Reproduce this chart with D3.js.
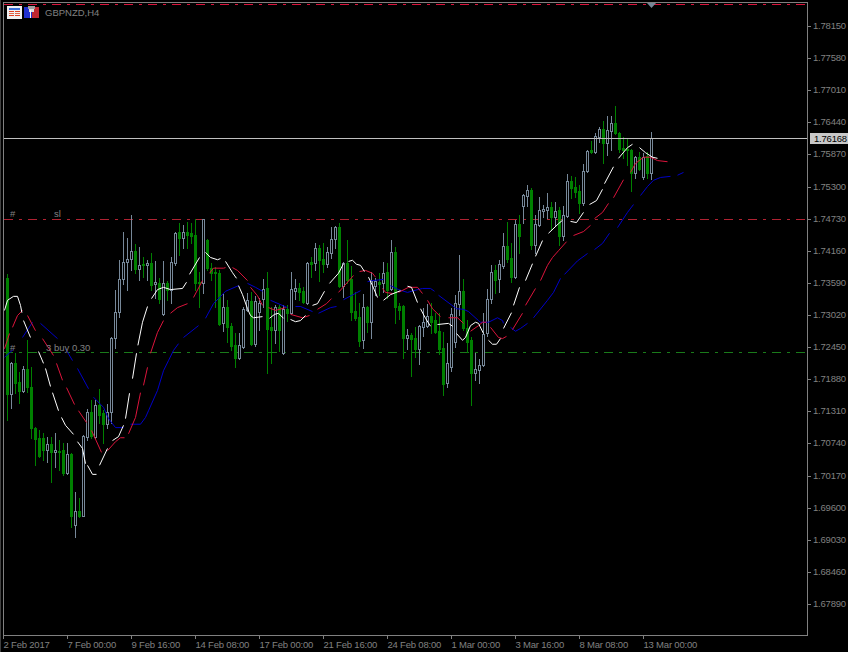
<!DOCTYPE html>
<html><head><meta charset="utf-8">
<script src="https://cdn.jsdelivr.net/npm/d3@7/dist/d3.min.js"></script>
<style>
html,body{margin:0;padding:0;background:#000;overflow:hidden}
svg{display:block}
text{font-family:"Liberation Sans",Arial,sans-serif;font-size:9.5px;fill:#808080}
</style></head><body>
<svg id="c" width="848" height="652"></svg>
<script>
// Prices are in 1/10000 units (17368 = 1.7368). Bars start at index 1; bar 0 sits behind the left border.
const highs=[17375,17219,17235,17201,17212,17258,17210,17103,17098,17092,17085,17085,17092,17080,17075,17075,17057,16988,16977,17089,17135,17151,17151,17171,17133,17144,17263,17346,17400,17449,17439,17480,17428,17423,17405,17400,17412,17398,17368,17398,17362,17405,17449,17465,17462,17467,17465,17472,17378,17472,17437,17394,17387,17382,17339,17329,17288,17270,17270,17316,17341,17343,17336,17332,17366,17378,17316,17320,17320,17320,17320,17378,17366,17359,17352,17396,17405,17430,17426,17430,17423,17458,17460,17465,17396,17435,17389,17343,17323,17339,17318,17378,17368,17377,17396,17394,17435,17423,17323,17320,17277,17270,17281,17284,17314,17322,17323,17306,17306,17272,17252,17314,17338,17409,17366,17293,17263,17235,17224,17306,17348,17391,17391,17400,17448,17467,17430,17471,17480,17517,17533,17527,17480,17511,17497,17519,17503,17503,17494,17496,17552,17549,17547,17533,17570,17595,17611,17625,17636,17646,17655,17655,17673,17627,17618,17616,17597,17584,17591,17590,17591,17627];
const opens=[17368,17162,17217,17183,17167,17206,17174,17101,17084,17084,17062,17073,17059,17061,17062,17022,17055,16929,16954,16946,17085,17130,17085,17142,17128,17109,17130,17261,17307,17366,17396,17401,17416,17384,17393,17391,17394,17357,17359,17304,17359,17346,17394,17449,17439,17449,17448,17444,17361,17359,17435,17386,17378,17377,17288,17316,17283,17249,17226,17245,17311,17327,17251,17307,17330,17350,17281,17275,17316,17235,17313,17306,17345,17350,17345,17323,17396,17394,17421,17401,17393,17412,17437,17458,17354,17394,17366,17309,17298,17258,17316,17290,17354,17361,17359,17378,17348,17414,17318,17318,17261,17267,17261,17242,17281,17283,17300,17293,17274,17244,17181,17210,17254,17322,17345,17279,17258,17199,17204,17213,17270,17330,17382,17366,17389,17425,17403,17370,17464,17496,17513,17524,17426,17462,17487,17488,17494,17476,17488,17442,17478,17540,17529,17522,17501,17558,17595,17591,17618,17632,17607,17629,17643,17625,17598,17597,17595,17554,17582,17547,17584,17554];
const closes=[17162,17217,17181,17167,17206,17174,17101,17082,17052,17062,17073,17059,17062,17059,17022,17055,16946,16954,16946,17087,17130,17087,17142,17125,17109,17130,17261,17307,17366,17396,17401,17416,17384,17391,17391,17394,17355,17361,17330,17359,17346,17396,17448,17439,17449,17444,17442,17359,17359,17472,17386,17377,17377,17286,17316,17281,17247,17226,17249,17313,17329,17251,17327,17323,17348,17277,17275,17316,17275,17313,17306,17348,17350,17343,17325,17394,17393,17421,17400,17393,17414,17437,17458,17354,17394,17364,17307,17297,17256,17316,17290,17362,17362,17357,17377,17346,17414,17316,17311,17261,17267,17259,17242,17283,17290,17300,17290,17272,17242,17180,17217,17304,17323,17345,17279,17254,17199,17206,17213,17268,17330,17378,17364,17393,17425,17401,17370,17464,17442,17515,17524,17426,17464,17488,17490,17494,17476,17487,17442,17480,17540,17527,17520,17501,17558,17593,17591,17620,17632,17607,17630,17643,17625,17597,17595,17595,17554,17582,17561,17582,17554,17616];
const lows=[17116,17137,17164,17146,17165,17165,17084,17036,17050,17045,17041,17006,17032,17027,17018,17020,16926,16908,16944,16945,17080,17084,17084,17110,17075,17101,17110,17243,17298,17357,17346,17382,17377,17364,17370,17364,17346,17332,17323,17302,17329,17323,17391,17409,17421,17421,17430,17346,17316,17341,17382,17364,17316,17284,17274,17254,17240,17210,17224,17243,17309,17249,17247,17275,17316,17199,17217,17252,17238,17233,17291,17304,17330,17329,17323,17322,17370,17382,17362,17378,17387,17403,17421,17352,17334,17359,17293,17293,17247,17243,17272,17261,17338,17338,17343,17332,17346,17288,17295,17226,17242,17194,17228,17215,17265,17281,17270,17270,17233,17160,17174,17203,17245,17302,17275,17236,17142,17187,17181,17212,17265,17323,17341,17343,17386,17396,17361,17368,17412,17465,17496,17419,17412,17460,17476,17474,17453,17460,17426,17435,17476,17510,17511,17483,17497,17556,17590,17590,17609,17572,17586,17595,17623,17591,17581,17568,17522,17545,17559,17543,17545,17543];

// Moving averages: [bar, price] with null for the breaks visible in the picture.
const lips=[[0.25,17311],[1,17329],[2.5,17336],[3.5,17336],[4.25,17320],[4.6,17307],null,[5,17293],[6.75,17263],null,[8.75,17238],[10,17217],null,[10.5,17208],[11.75,17176],null,[12.25,17165],[13.75,17133],null,[14.5,17121],[15.5,17107],[17.5,17091],null,[18.5,17078],[19.75,17066],[20.5,17039],null,[21,17036],[22.25,17020],[23.25,17020],null,[24,17036],[26,17066],null,[27.25,17080],[28.75,17087],[30,17107],null,[30.5,17119],[31.5,17164],null,[32.25,17190],[33.25,17235],null,[33.6,17249],[34.75,17290],[36,17318],null,[37,17332],[38.5,17348],[40,17352],[41.75,17348],[44.75,17350],[45.75,17361],null,[46.5,17375],[49,17405],null,[50.5,17414],[51.75,17405],[53.5,17401],[54.25,17403],null,[55.5,17398],[57.25,17378],[58.25,17368],null,[58.75,17355],[59.75,17339],[61,17314],[61.75,17302],[62.5,17298],[64.75,17300],null,[66.5,17297],[67.75,17304],[68.75,17306],[70,17297],null,[71.75,17295],[73,17291],[74.25,17293],[75.5,17302],null,[77.25,17320],[78.5,17323],[80.25,17345],null,[81.5,17359],[83.75,17377],[85,17394],null,[86.25,17398],[87.25,17400],[88.25,17393],[89.25,17391],[90.25,17380],null,[91.25,17370],[92.25,17355],[93.5,17334],null,[95,17329],[96.75,17339],[99.25,17346],null,[101,17354],[102,17352],[103.5,17325],null,[104.25,17314],[105.5,17297],[106.75,17283],null,[108.5,17286],[111.25,17288],[112.25,17283],null,[113.25,17270],[114.75,17258],[115.5,17263],[116.75,17284],[118,17290],[118.75,17288],[120,17270],null,[121.25,17258],[122.25,17251],[123.25,17251],[124.25,17261],null,[125,17279],[127,17307],null,[127.5,17320],[129,17352],null,[130.5,17364],[132.25,17394],null,[133,17407],[134.75,17435],null,[136.25,17448],[138.75,17465],[139.75,17471],null,[141.75,17469],[143.25,17467],[145,17485],null,[146.5,17499],[148.25,17506],[149.75,17526],null,[150.25,17536],[152.5,17566],null,[153.75,17581],[156,17600],[157.25,17606],null,[159,17600],[160.5,17591],[162.25,17583],[163.5,17581]];
const teeth=[[0.25,17243],[1.5,17270],null,[2.25,17281],[3.5,17302],[4.75,17311],null,[6,17302],[8,17275],null,[9.75,17261],[12.5,17231],null,[13.25,17217],[14.75,17187],null,[15.75,17174],[17.75,17144],null,[18.75,17133],[20.75,17112],null,[22,17098],[24.5,17059],null,[26,17062],[28,17078],[29.25,17085],[30.25,17085],null,[31.25,17092],[33,17121],[34.25,17165],null,[35,17178],[36,17210],null,[36.75,17235],[38.5,17272],[40,17293],null,[41.75,17306],[43.5,17316],[46,17323],null,[47.5,17334],[49.75,17364],null,[51.5,17377],[52.5,17386],[55,17386],[55.5,17387],null,[57.25,17387],[58.5,17382],[61,17364],null,[61.75,17352],[63.5,17337],[64.75,17320],null,[66.25,17316],[68,17311],[70.5,17316],null,[71.75,17304],[74.75,17298],[76.5,17302],null,[78.5,17313],[80.75,17323],[82,17332],null,[83.75,17343],[87.5,17373],null,[89,17380],[90.5,17382],[92.25,17377],[93,17370],null,[94.75,17350],[95.5,17343],[97.25,17341],null,[98.75,17343],[101.25,17352],[103.5,17352],[104.75,17341],null,[106,17329],[107.25,17314],[109.25,17300],null,[111.25,17298],[113.5,17298],[115,17288],null,[116.75,17274],[118.75,17284],[119.75,17290],[120.75,17290],null,[121.75,17281],[123.75,17263],[124.75,17261],[125.75,17265],null,[127.25,17277],[129.75,17306],null,[130.5,17320],[133,17350],null,[134.25,17364],[136,17391],[137.25,17405],[138.75,17417],[140.75,17433],null,[142.5,17444],[145,17451],[146.75,17462],null,[147.75,17474],[149.75,17485],[151.25,17501],null,[152.5,17511],[155,17543],null,[156.75,17556],[158,17572],[160,17583],[161.75,17583],[163.5,17577],[166,17575]];
const jaw=[[0.25,17228],[2.5,17242],null,[4.75,17263],[7.25,17290],null,[9.25,17288],[13.5,17261],null,[15.5,17243],[17.25,17222],null,[18.5,17208],[21.25,17172],null,[22.5,17157],[25,17139],[26.25,17119],[28,17103],[30,17103],null,[31.75,17109],[34.25,17109],[35.5,17121],[36.25,17133],[38.5,17169],[40,17204],[41.25,17222],[42.5,17240],[43.75,17252],null,[45,17263],[48.75,17284],null,[50.5,17297],[52.5,17323],[55.5,17345],[58.75,17355],null,[61,17359],[63,17352],[64.75,17345],null,[66.75,17329],[71,17316],null,[73,17318],[74.25,17318],[77.25,17309],null,[78.75,17306],[81.75,17316],[83.25,17318],null,[85,17330],[89.25,17346],null,[91,17362],[92.25,17364],[95,17366],null,[96.75,17355],[98.75,17348],[101,17343],[102.5,17346],[104.75,17350],[106.75,17350],[107.75,17345],null,[108.75,17338],[113.25,17314],[115,17313],[116.25,17309],[118.75,17293],[119.25,17290],[121.25,17290],[123.5,17298],[124.75,17293],[125,17288],null,[126.75,17281],[128,17274],[129.25,17279],[131,17288],null,[132.5,17298],[136,17329],[137.5,17343],[139.25,17368],null,[140.25,17375],[143.5,17399],[146,17412],null,[147.75,17419],[149.75,17430],[151.5,17448],null,[153.5,17458],[156,17485],[157.5,17499],null,[159.25,17515],[161,17531],[162.5,17542],[164.25,17547],[166.75,17549],null,[168.5,17551],[170,17556]];

const priceTicks=[1.7815,1.7758,1.7701,1.7644,1.7587,1.753,1.7473,1.7416,1.7359,1.7302,1.7245,1.7188,1.7131,1.7074,1.7017,1.696,1.6903,1.6846,1.6789];
const timeBars=[0,16,32,48,64,80,96,112,128,144,160];
const timeLabels=["2 Feb 2017","7 Feb 00:00","9 Feb 16:00","14 Feb 08:00","17 Feb 00:00","21 Feb 16:00","24 Feb 08:00","1 Mar 00:00","3 Mar 16:00","8 Mar 08:00","13 Mar 00:00"];
const bidPrice=1.76168, slPrice=1.7473, entryPrice=1.7236, topPrice=1.78545;
const GRAY="#778899",GREEN="#008000",AXIS="#808080";

const svg=d3.select("#c");
const x=d3.scaleLinear().domain([0,201]).range([3,807]);
const y=d3.scaleLinear().domain([1.7815,1.6789]).range([26,604]);
const px=b=>Math.round(x(b));
const py=p=>Math.round(y(p/1e4));

svg.append("rect").attr("width",848).attr("height",652).attr("fill","#000");

// dashed levels
const level=(p,col)=>svg.append("line").attr("x1",4).attr("x2",807).attr("y1",Math.round(y(p))+.5).attr("y2",Math.round(y(p))+.5)
  .attr("stroke",col).attr("stroke-dasharray","9 6 3 6").attr("shape-rendering","crispEdges");
level(topPrice,"#dc143c");
level(slPrice,"#b02232");
level(entryPrice,"#1a7a1a");

// candles
const bars=opens.map((o,i)=>({i:i+1,o,h:highs[i],l:lows[i],c:closes[i]}));
const g=svg.append("g").attr("shape-rendering","crispEdges");
const cand=g.selectAll("g").data(bars).join("g");
cand.append("line")
  .attr("x1",d=>px(d.i)+.5).attr("x2",d=>px(d.i)+.5)
  .attr("y1",d=>py(d.h)).attr("y2",d=>py(d.l)+1)
  .attr("stroke",d=>d.c>d.o?GRAY:GREEN);
cand.append("rect")
  .attr("x",d=>px(d.i)-.5).attr("width",2)
  .attr("y",d=>Math.min(py(d.o),py(d.c))+.5)
  .attr("height",d=>Math.abs(py(d.o)-py(d.c)))
  .attr("fill",d=>d.c>d.o?"#000":GREEN)
  .attr("stroke",d=>d.c>d.o?GRAY:GREEN);

// moving averages
const maLine=d3.line().defined(d=>d!==null).x(d=>x(d[0])+.5).y(d=>y(d[1]/1e4)+.5);
[[jaw,"#0000c8"],[teeth,"#dc143c"],[lips,"#ffffff"]].forEach(([s,c])=>{
  svg.append("path").attr("d",maLine(s)).attr("fill","none").attr("stroke",c).attr("stroke-width",1);
});

// bid line
svg.append("line").attr("x1",4).attr("x2",807).attr("y1",138.5).attr("y2",138.5).attr("stroke","#c0c0c0").attr("shape-rendering","crispEdges");

// frame
const frame=svg.append("g").attr("stroke",AXIS).attr("shape-rendering","crispEdges");
frame.append("line").attr("x1",3.5).attr("x2",3.5).attr("y1",2).attr("y2",636);
frame.append("line").attr("x1",3).attr("x2",808).attr("y1",2.5).attr("y2",2.5);
frame.append("line").attr("x1",807.5).attr("x2",807.5).attr("y1",2).attr("y2",636);
frame.append("line").attr("x1",3).attr("x2",808).attr("y1",635.5).attr("y2",635.5);
frame.append("line").attr("x1",.5).attr("x2",.5).attr("y1",0).attr("y2",652).attr("stroke","#404040");

// axes
const yAxis=d3.axisRight(y).tickValues(priceTicks).tickSize(4).tickPadding(2).tickFormat(d3.format(".5f"));
const ya=svg.append("g").attr("transform","translate(807,0)").call(yAxis);
const xAxis=d3.axisBottom(x).tickValues(timeBars).tickSize(4).tickFormat((d,i)=>timeLabels[i]);
const xa=svg.append("g").attr("transform","translate(0,635)").call(xAxis);
[ya,xa].forEach(a=>{a.select(".domain").remove();a.selectAll("line").attr("stroke",AXIS).attr("shape-rendering","crispEdges");
  a.selectAll("text").attr("fill",AXIS).style("font-size","9.5px").style("font-family",'"Liberation Sans",Arial,sans-serif');});
ya.selectAll("text").style("letter-spacing","-0.2px").attr("dy","0.26em");
xa.selectAll("text").attr("text-anchor","start").attr("dx",0).attr("y",13).attr("dy",0).attr("x",0).style("letter-spacing","-0.2px");

// bid tag
svg.append("rect").attr("x",810).attr("y",133).attr("width",38).attr("height",11).attr("fill","#c8c8c8");
svg.append("text").attr("x",814).attr("y",142).text(d3.format(".5f")(bidPrice)).style("fill","#000").style("letter-spacing","-0.2px");

// last-bar arrow
svg.append("path").attr("d","M647,3 L656,3 L651.5,8 Z").attr("fill",GRAY);

// chart texts
svg.append("text").attr("x",45).attr("y",15.5).text("GBPNZD,H4");
svg.append("text").attr("x",10).attr("y",216.5).text("#");
svg.append("text").attr("x",54).attr("y",216.5).text("sl");
svg.append("text").attr("x",10).attr("y",350.5).text("#");
svg.append("text").attr("x",46).attr("y",350.5).text("3 buy 0.30");

// toolbar icons
const ic=svg.append("g").attr("shape-rendering","crispEdges");
const r=(x0,y0,w,h,f)=>ic.append("rect").attr("x",x0).attr("y",y0).attr("width",w).attr("height",h).attr("fill",f);
r(7,6,15,13,"#f0f0f0");r(9,8,11,2,"#3a6fd8");
r(9,11,11,1,"#e04020");r(9,13,11,1,"#e06848");r(9,15,11,1,"#e04020");r(14,10,1,7,"#f0f0f0");
r(24,7,8,11,"#2030d0");r(32,7,7,11,"#c02830");r(28,6,7,3,"#a0a0a0");r(29,9,5,3,"#e0e0e0");r(30,10,1,8,"#fff");
</script>
</body></html>
